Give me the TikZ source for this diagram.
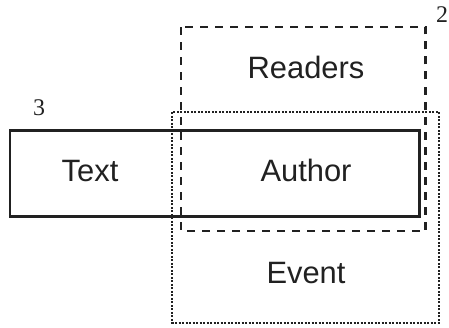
\documentclass[tikz,border=0pt]{standalone}
\usepackage{fontspec}
\setmainfont{Liberation Sans}
\newfontfamily\numfont{Liberation Serif}
\begin{document}
\begin{tikzpicture}[x=1bp,y=-1bp,
  ink/.style={draw=black!87},
  solidbox/.style={ink, line width=2.5bp},
  dashbox/.style={ink, line width=2.5bp, dash pattern=on 8bp off 7bp},
  dotbox/.style={ink, line width=2.2bp, dash pattern=on 2bp off 1.5bp},
  lbl/.style={font=\fontsize{31}{31}\selectfont, text=black!87, inner sep=0pt},
  num/.style={font=\numfont\fontsize{24}{24}\selectfont, text=black!87, inner sep=0pt}]
\useasboundingbox (0,0) rectangle (449,327);
% the three overlapping regions
\draw[dotbox]   (172.3,112.3) rectangle (439,323);
\draw[dashbox]  (181,27)  rectangle (425.5,231);
\draw[solidbox] (10,130.7)  rectangle (419.5,216.5);
% labels
\node[lbl] (readers) at (306,67.5)  {Readers};
\node[lbl] (author)  at (306,170.5) {Author};
\node[lbl] (text)    at (90,171)  {Text};
\node[lbl] (event)   at (306,273) {Event};
\node[num] (two)     at (442,15)  {2};
\node[num] (three)   at (39,108)  {3};
\end{tikzpicture}
\end{document}
